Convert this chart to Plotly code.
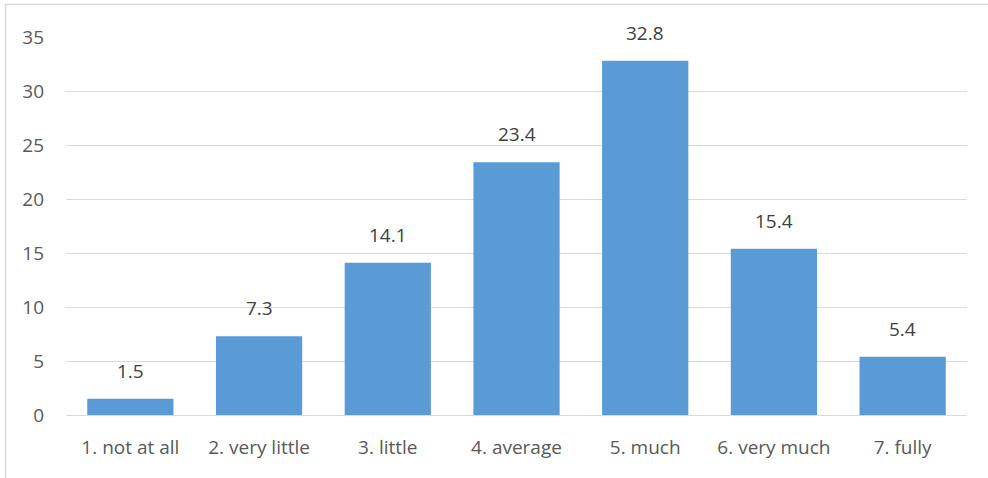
import plotly.graph_objects as go

categories = ["1. not at all", "2. very little", "3. little", "4. average",
              "5. much", "6. very much", "7. fully"]
values = [1.5, 7.3, 14.1, 23.4, 32.8, 15.4, 5.4]
y_ticks = [0, 5, 10, 15, 20, 25, 30, 35]

FONT = "Open Sans"
BAR = "#5b9bd5"

fig = go.Figure()
fig.add_trace(go.Bar(x=categories, y=values, marker_color=BAR,
                     marker_line_width=0, hoverinfo="skip"))

# value labels above each bar
for c, v in zip(categories, values):
    fig.add_annotation(x=c, y=v, text=f"{v:.1f}", showarrow=False,
                       yanchor="bottom", yshift=13,
                       font=dict(family=FONT, size=19, color="#404040"))

L, R, T, B = 66, 21, 37, 63
W, H = 988, 478
pw, ph = W - L - R, H - T - B

# outer frame (cropped at right and bottom edges)
fig.add_shape(type="rect", xref="paper", yref="paper",
              x0=(5.5 - L) / pw, x1=(W + 5 - L) / pw,
              y0=-(5 + B) / ph, y1=(H - 4.5 - B) / ph,
              line=dict(color="#d9d9d9", width=1.5), fillcolor="rgba(0,0,0,0)",
              layer="below")

fig.update_layout(
    width=W, height=H,
    margin=dict(l=L, r=R, t=T, b=B),
    paper_bgcolor="white", plot_bgcolor="white",
    bargap=0.33, showlegend=False,
    font=dict(family=FONT, size=19, color="#595959"),
    xaxis=dict(showgrid=False, showline=False, zeroline=False,
               ticks="", ticklabelstandoff=19,
               tickfont=dict(family=FONT, size=19, color="#595959")),
    yaxis=dict(range=[0, 35], tickvals=y_ticks, showgrid=True,
               gridcolor="#d9d9d9", gridwidth=1.3,
               zeroline=True, zerolinecolor="#d9d9d9", zerolinewidth=1.3,
               showline=False, ticks="", ticklabelstandoff=21,
               tickfont=dict(family=FONT, size=19, color="#595959")),
)

fig.write_html("out.html")
